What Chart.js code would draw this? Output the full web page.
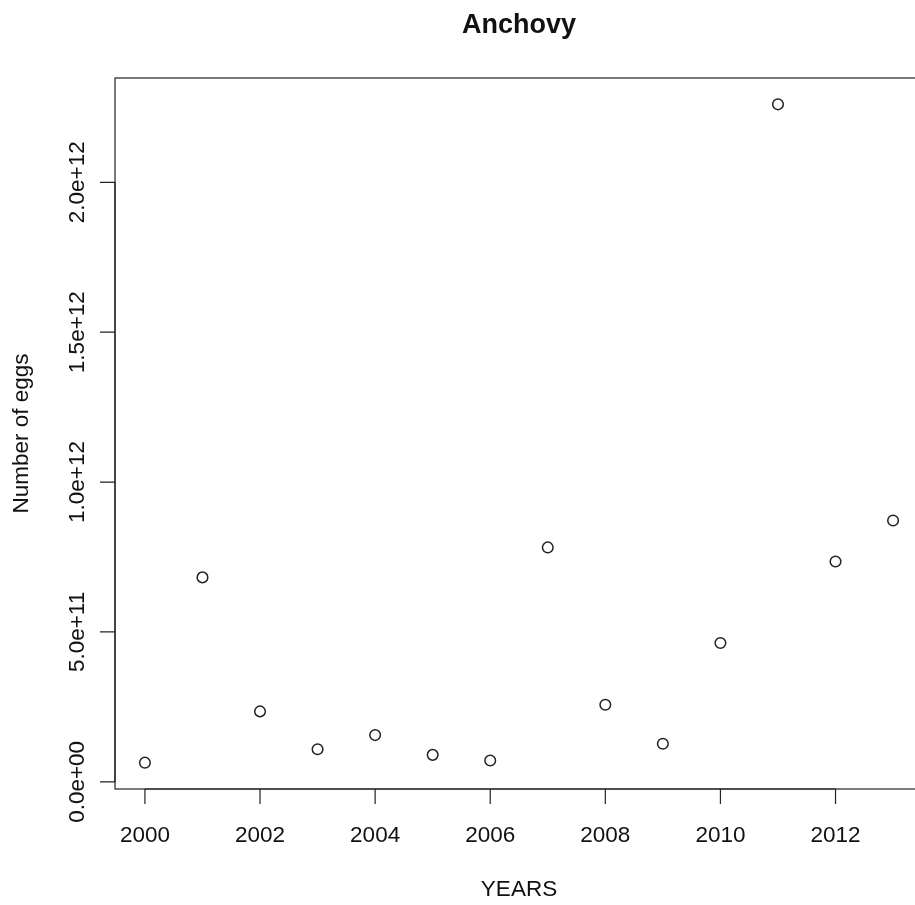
<!DOCTYPE html>
<html>
<head>
<meta charset="utf-8">
<script src="https://cdn.jsdelivr.net/npm/chart.js@4/dist/chart.umd.min.js"></script>
<style>
  html, body { margin: 0; padding: 0; background: #fff; overflow: hidden; }
  canvas { display: block; }
</style>
</head>
<body>
<canvas id="chart" width="930" height="905"></canvas>
<script>
var years = [2000, 2001, 2002, 2003, 2004, 2005, 2006, 2007, 2008, 2009, 2010, 2011, 2012, 2013];
var eggs = [6.4e10, 6.82e11, 2.35e11, 1.09e11, 1.56e11, 9.0e10, 7.1e10, 7.82e11, 2.57e11, 1.27e11, 4.63e11, 2.26e12, 7.35e11, 8.72e11];
var xTicks = [2000, 2002, 2004, 2006, 2008, 2010, 2012];
var yTicks = [0, 5e11, 1e12, 1.5e12, 2e12];
var yTickLabels = ['0.0e+00', '5.0e+11', '1.0e+12', '1.5e+12', '2.0e+12'];
var mainTitle = 'Anchovy';
var xTitle = 'YEARS';
var yTitle = 'Number of eggs';

// R style axis limits: data range extended by 4% each side
function rRange(arr) {
    var lo = Math.min.apply(null, arr), hi = Math.max.apply(null, arr);
    var ext = (hi - lo) * 0.04;
    return [lo - ext, hi + ext];
}
var xr = rRange(years);
var yr = rRange(eggs);

var points = years.map(function (y, i) { return { x: y, y: eggs[i] }; });

var FONT = '"Liberation Sans", Arial, Helvetica, sans-serif';

var rAxes = {
    id: 'rAxes',
    afterDraw: function (chart) {
        var ctx = chart.ctx;
        var a = chart.chartArea;
        var xs = chart.scales.x, ys = chart.scales.y;
        ctx.save();
        ctx.strokeStyle = '#222';
        ctx.lineWidth = 1.2;
        ctx.strokeRect(a.left, a.top, a.right - a.left, a.bottom - a.top);

        // x axis
        ctx.fillStyle = '#111';
        ctx.font = '22.5px ' + FONT;
        ctx.textAlign = 'center';
        ctx.textBaseline = 'alphabetic';
        ctx.beginPath();
        ctx.moveTo(xs.getPixelForValue(xTicks[0]), a.bottom);
        ctx.lineTo(xs.getPixelForValue(xTicks[xTicks.length - 1]), a.bottom);
        xTicks.forEach(function (t) {
            var px = xs.getPixelForValue(t);
            ctx.moveTo(px, a.bottom);
            ctx.lineTo(px, a.bottom + 15);
        });
        ctx.stroke();
        xTicks.forEach(function (t) {
            ctx.fillText(String(t), xs.getPixelForValue(t), 842);
        });

        // y axis
        ctx.beginPath();
        ctx.moveTo(a.left, ys.getPixelForValue(yTicks[0]));
        ctx.lineTo(a.left, ys.getPixelForValue(yTicks[yTicks.length - 1]));
        yTicks.forEach(function (t) {
            var py = ys.getPixelForValue(t);
            ctx.moveTo(a.left, py);
            ctx.lineTo(a.left - 15, py);
        });
        ctx.stroke();
        yTicks.forEach(function (t, i) {
            var py = ys.getPixelForValue(t);
            ctx.save();
            ctx.translate(84, py);
            ctx.rotate(-Math.PI / 2);
            ctx.fillText(yTickLabels[i], 0, 0);
            ctx.restore();
        });

        // titles
        ctx.fillText(xTitle, (a.left + a.right) / 2, 896);
        ctx.save();
        ctx.translate(28, (a.top + a.bottom) / 2);
        ctx.rotate(-Math.PI / 2);
        ctx.fillText(yTitle, 0, 0);
        ctx.restore();
        ctx.font = 'bold 27px ' + FONT;
        ctx.fillText(mainTitle, (a.left + a.right) / 2, 33);
        ctx.restore();
    }
};

new Chart(document.getElementById('chart').getContext('2d'), {
    type: 'scatter',
    data: {
        datasets: [{
            data: points,
            pointRadius: 5.3,
            pointHoverRadius: 5.3,
            pointBorderWidth: 1.5,
            pointBorderColor: '#222',
            pointBackgroundColor: 'rgba(0,0,0,0)'
        }]
    },
    options: {
        responsive: false,
        animation: false,
        devicePixelRatio: 1,
        layout: { padding: { left: 115, right: 7, top: 78, bottom: 116 } },
        plugins: { legend: { display: false }, tooltip: { enabled: false }, title: { display: false } },
        scales: {
            x: { type: 'linear', display: false, min: xr[0], max: xr[1] },
            y: { type: 'linear', display: false, min: yr[0], max: yr[1] }
        }
    },
    plugins: [rAxes]
});
</script>
</body>
</html>
